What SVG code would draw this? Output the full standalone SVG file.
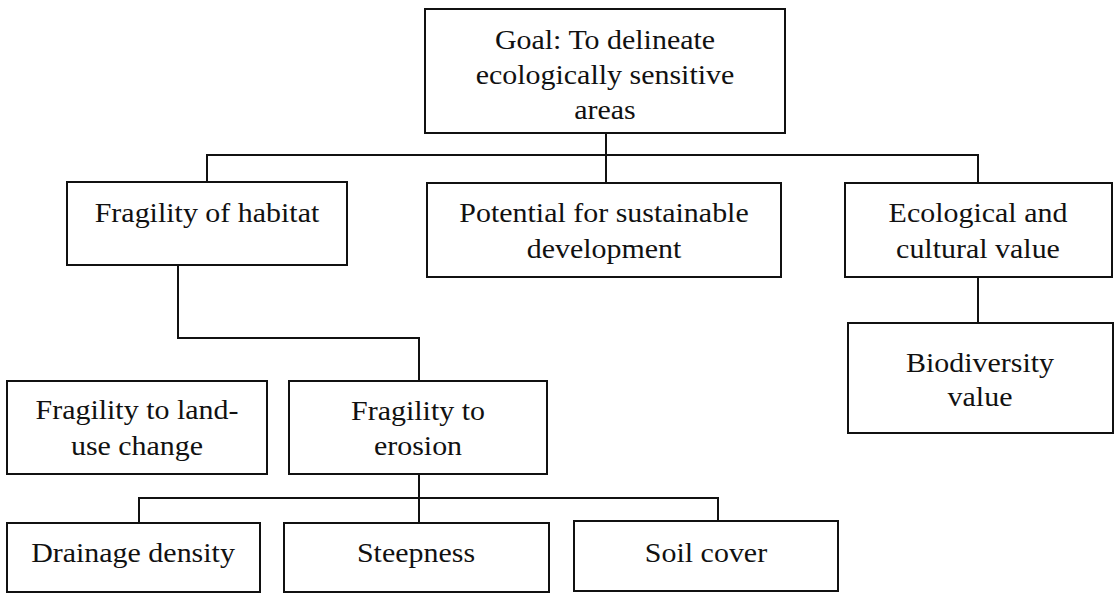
<svg xmlns="http://www.w3.org/2000/svg" width="1118" height="594" viewBox="0 0 1118 594">
  <style>
    .box { fill: #ffffff; stroke: #111111; stroke-width: 2; }
    .link { fill: none; stroke: #111111; stroke-width: 2; }
    .label { font-family: "Liberation Serif", "Times New Roman", serif; font-size: 28px; fill: #111111; text-anchor: middle; }
  </style>
  <rect width="1118" height="594" fill="#ffffff"/>

  <!-- connectors -->
  <g id="connectors">
    <path class="link" d="M606 133 V183"/>
    <path class="link" d="M207 182 V155 H978 V183"/>
    <path class="link" d="M178 265 V338 H419 V381"/>
    <path class="link" d="M978 277 V323"/>
    <path class="link" d="M419 474 V523"/>
    <path class="link" d="M139 523 V498 H718 V521"/>
  </g>

  <!-- root goal -->
  <g id="goal">
    <rect class="box" x="425" y="9" width="360" height="124"/>
    <text class="label" transform="translate(605 49) scale(1.07 1)">Goal: To delineate</text>
    <text class="label" transform="translate(605 84) scale(1.07 1)">ecologically sensitive</text>
    <text class="label" transform="translate(605 119) scale(1.07 1)">areas</text>
  </g>

  <!-- second level -->
  <g id="fragility-habitat">
    <rect class="box" x="67" y="182" width="280" height="83"/>
    <text class="label" transform="translate(207 222) scale(1.07 1)">Fragility of habitat</text>
  </g>
  <g id="sustainable-development">
    <rect class="box" x="427" y="183" width="354" height="94"/>
    <text class="label" transform="translate(604 222) scale(1.07 1)">Potential for sustainable</text>
    <text class="label" transform="translate(604 258) scale(1.07 1)">development</text>
  </g>
  <g id="ecological-cultural">
    <rect class="box" x="845" y="183" width="267" height="94"/>
    <text class="label" transform="translate(978 222) scale(1.07 1)">Ecological and</text>
    <text class="label" transform="translate(978 258) scale(1.07 1)">cultural value</text>
  </g>

  <!-- third level -->
  <g id="biodiversity">
    <rect class="box" x="848" y="323" width="265" height="110"/>
    <text class="label" transform="translate(980 372) scale(1.07 1)">Biodiversity</text>
    <text class="label" transform="translate(980 406) scale(1.07 1)">value</text>
  </g>
  <g id="land-use">
    <rect class="box" x="7" y="381" width="260" height="93"/>
    <text class="label" transform="translate(137 419) scale(1.07 1)">Fragility to land-</text>
    <text class="label" transform="translate(137 455) scale(1.07 1)">use change</text>
  </g>
  <g id="erosion">
    <rect class="box" x="289" y="381" width="258" height="93"/>
    <text class="label" transform="translate(418 420) scale(1.07 1)">Fragility to</text>
    <text class="label" transform="translate(418 455) scale(1.07 1)">erosion</text>
  </g>

  <!-- erosion factors -->
  <g id="drainage">
    <rect class="box" x="7" y="523" width="253" height="69"/>
    <text class="label" transform="translate(133 562) scale(1.07 1)">Drainage density</text>
  </g>
  <g id="steepness">
    <rect class="box" x="284" y="523" width="265" height="69"/>
    <text class="label" transform="translate(416 562) scale(1.07 1)">Steepness</text>
  </g>
  <g id="soil-cover">
    <rect class="box" x="574" y="521" width="264" height="70"/>
    <text class="label" transform="translate(706 562) scale(1.07 1)">Soil cover</text>
  </g>
</svg>
